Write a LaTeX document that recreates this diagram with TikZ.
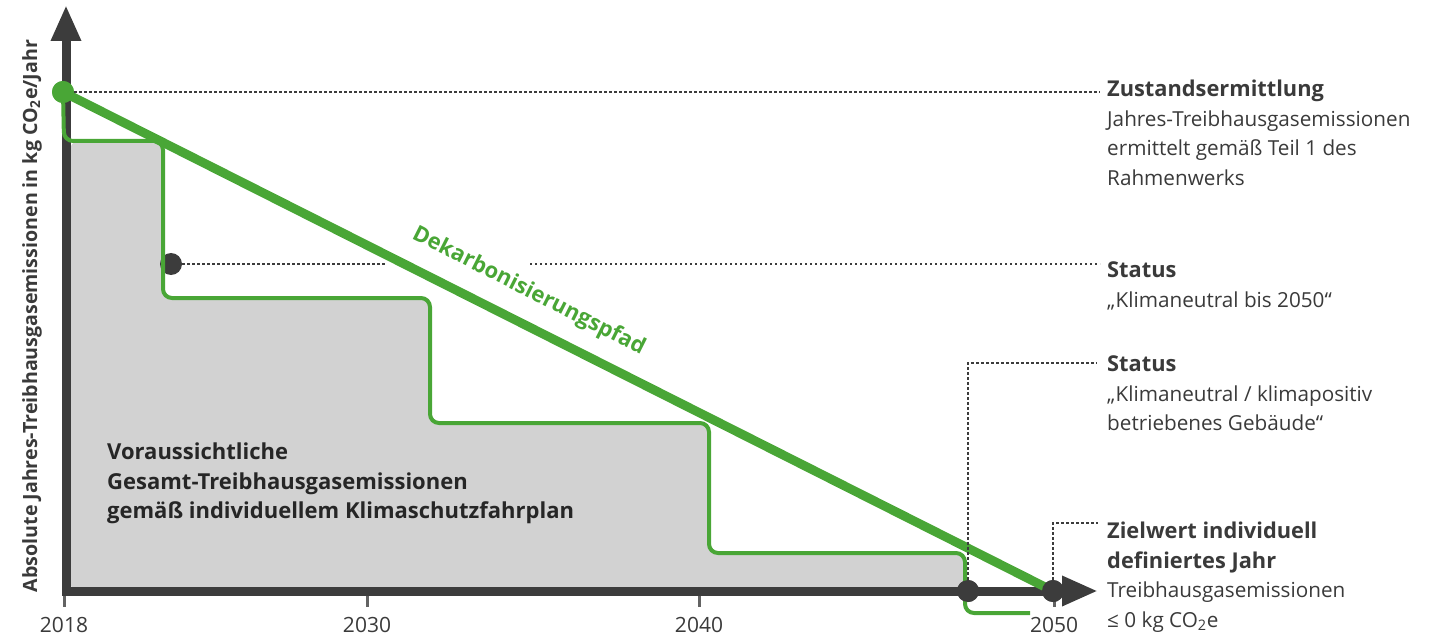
\documentclass[tikz,border=0pt]{standalone}
\usepackage{fontspec}
\setmainfont{Open Sans}
\usetikzlibrary{positioning}
\usetikzlibrary{arrows.meta}

\definecolor{pfadgreen}{HTML}{49A636}
\definecolor{axisgray}{HTML}{3C3C3C}
\definecolor{areagray}{HTML}{D2D2D2}
\definecolor{textgray}{HTML}{3A3A3A}

\newcommand{\notetitle}[1]{{\fontsize{21.8}{29.5}\selectfont\bfseries #1}}

\tikzset{
  axisline/.style={line width=9pt, draw=axisgray, -{Triangle[length=36pt,width=28pt]}},
  pfadline/.style={line width=9pt, draw=pfadgreen},
  stairline/.style={line width=4pt, draw=pfadgreen, rounded corners=9pt},
  dotline/.style={line width=2.6pt, draw=axisgray, dash pattern=on 2.4pt off 2.6pt},
  greendot/.style={circle, fill=pfadgreen, minimum size=22pt, inner sep=0pt},
  darkdot/.style={circle, fill=axisgray, minimum size=22pt, inner sep=0pt},
  infotext/.style={anchor=north west, align=left, inner sep=0pt, text=textgray,
    font=\fontsize{20.7}{29.5}\selectfont},
  areatext/.style={infotext, text=black!85, font=\fontsize{22}{29.5}\selectfont\bfseries},
  yearlabel/.style={anchor=base, inner sep=0pt, text=textgray, font=\fontsize{21}{24}\selectfont},
  tickmark/.style={line width=3pt, draw=axisgray!80},
}

\begin{document}
\begin{tikzpicture}[x=1pt,y=-1pt]
\useasboundingbox (0,0) rectangle (1439,636);

% area under the steps
\fill[areagray, rounded corners=9pt] (70,141) -- (163,141) -- (163,298) -- (430,298) -- (430,423)
  -- (709,423) -- (709,553) -- (965,553) -- (965,591) -- (70,591) -- cycle;

% axes
\coordinate (origin) at (66,591);
\coordinate (ytip) at (66,5);
\coordinate (xtip) at (1098,591);
\draw[axisline] (66,595) -- (ytip);
\draw[axisline] (62,591) -- (xtip);

\foreach \x/\yr in {64/2018, 367/2030, 699/2040, 1054/2050} {
  \draw[tickmark] (\x,596) -- (\x,607);
  \node[yearlabel] (y\yr) at (\x,632) {\yr};
}

\node[rotate=90, inner sep=0pt, text=textgray, font=\fontsize{19.6}{22}\selectfont\bfseries]
  (ylabel) at (32,316) {Absolute Jahres-Treibhausgasemissionen in kg CO\textsubscript{2}e/Jahr};

% points
\node[greendot] (start) at (63,92) {};
\node[darkdot] (statusdot) at (171,264) {};
\node[darkdot] (neutraldot) at (968,591) {};
\node[darkdot] (targetdot) at (1053,591) {};

% steps of the individual plan
\draw[stairline] (start.center) -- (64,141) -- (163,141) -- (163,298) -- (430,298) -- (430,423)
  -- (709,423) -- (709,553) -- (965,553) -- (965,613) -- (1030,613);

% decarbonisation path
\draw[pfadline] (start.center) -- (targetdot.center)
  node[sloped, pos=0.456, above=16pt, inner sep=0pt, text=pfadgreen,
       font=\fontsize{22}{24}\selectfont\bfseries] (pfadlabel) {Dekarbonisierungspfad};
\node[greendot] at (start) {};
\node[darkdot] at (neutraldot) {};
\node[darkdot] at (targetdot) {};

% leaders to the right-hand notes
\coordinate (zustend) at (1100,92);
\coordinate (gapleft) at (385,264);
\coordinate (gapright) at (530,264);
\coordinate (statusend) at (1100,264);
\coordinate (neutralend) at (1097,363);
\coordinate (targetend) at (1098,523);
\draw[dotline] (start) -- (zustend);
\draw[dotline] (statusdot) -- (gapleft);
\draw[dotline] (gapright) -- (statusend);
\draw[dotline] (neutraldot) |- (neutralend);
\draw[dotline] (targetdot) |- (targetend);

\node[areatext] (areanote) at (107,443)
  {Voraussichtliche\\Gesamt-Treibhausgasemissionen\\gemäß individuellem Klimaschutzfahrplan};

\node[infotext] (zustand) at (1107,80)
  {\notetitle{Zustandsermittlung}\\Jahres-Treibhausgasemissionen\\ermittelt gemäß Teil 1 des\\Rahmenwerks};
\node[infotext] (status) at (1107,262)
  {\notetitle{Status}\\„Klimaneutral bis 2050“};
\node[infotext] (statuszwei) at (1107,356)
  {\notetitle{Status}\\„Klimaneutral / klimapositiv\\betriebenes Gebäude“};
\node[infotext] (zielwert) at (1107,522)
  {\notetitle{Zielwert individuell}\\\notetitle{definiertes Jahr}\\Treibhausgasemissionen\\≤ 0 kg CO\textsubscript{2}e};
\end{tikzpicture}
\end{document}
